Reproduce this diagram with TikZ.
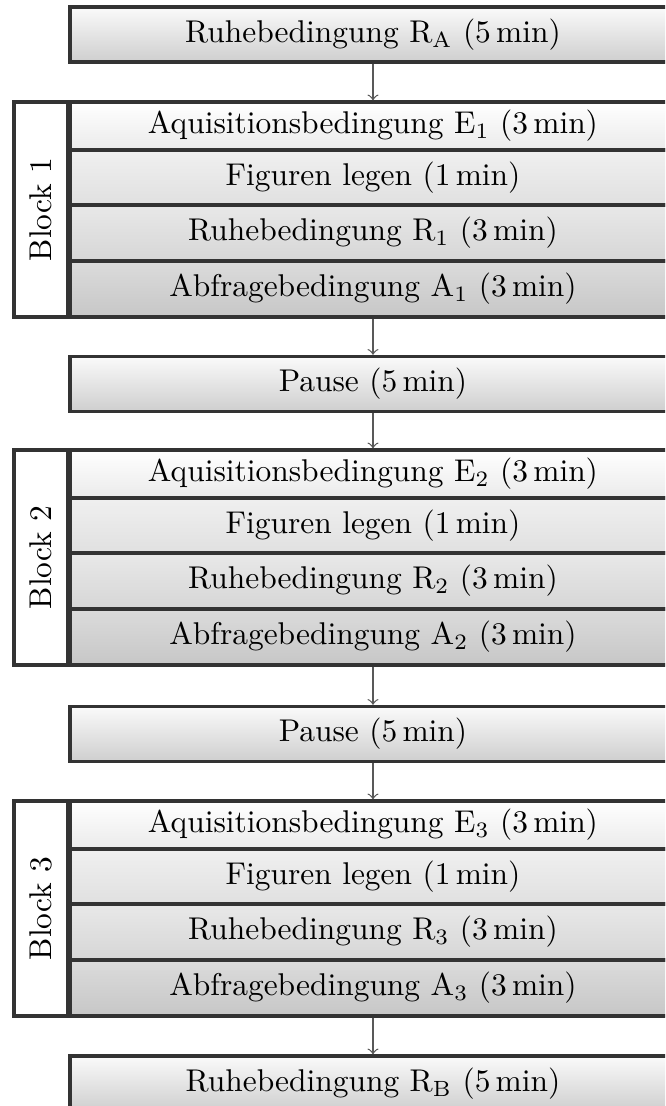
\documentclass[tikz,border=0pt]{standalone}
\newcommand\pxu{0.318pt}
\tikzset{
  frame/.style={draw=black!80, line width=1.1pt, inner sep=0pt},
  stage/.style={frame, minimum width={606*\pxu}, minimum height={55*\pxu}, top color=black!2, bottom color=black!19},
  rowa/.style={stage, minimum height={48*\pxu}, top color=white, bottom color=black!8},
  rowb/.style={stage, minimum height={55*\pxu}, top color=black!6, bottom color=black!12},
  rowc/.style={stage, minimum height={56*\pxu}, top color=black!9, bottom color=black!16},
  rowd/.style={stage, minimum height={56*\pxu}, top color=black!14, bottom color=black!22},
  blocklabel/.style={frame, fill=white, rotate=90, minimum width={215*\pxu}, minimum height={54*\pxu}},
  flow/.style={->, draw=black!65, line width=0.4pt}
}
\begin{document}
\begin{tikzpicture}[x=\pxu, y=-\pxu]
  \useasboundingbox (0, 0) rectangle (665, 1106);
  \clip (0, 0) rectangle (665, 1106);

  \node[stage] (ra) at (373, 34.5) {Ruhebedingung $\mathrm{R}_\mathrm{A}$ (5\,min)};
  \node[stage] (p1) at (373, 384) {Pause (5\,min)};
  \node[stage] (p2) at (373, 734) {Pause (5\,min)};
  \node[stage] (rb) at (373, 1083.5) {Ruhebedingung $\mathrm{R}_\mathrm{B}$ (5\,min)};

  % three blocks of four conditions each
  \foreach \b/\t in {1/102, 2/450, 3/801} {
    \node[rowa] (b\b r1) at (373, \t + 24) {Aquisitionsbedingung $\mathrm{E}_\b$ (3\,min)};
    \node[rowb] (b\b r2) at (373, \t + 75.5) {Figuren legen (1\,min)};
    \node[rowc] (b\b r3) at (373, \t + 131) {Ruhebedingung $\mathrm{R}_\b$ (3\,min)};
    \node[rowd] (b\b r4) at (373, \t + 187) {Abfragebedingung $\mathrm{A}_\b$ (3\,min)};
    \node[blocklabel] (b\b) at (41, \t + 107.5) {Block \b};
  }

  \draw[flow] (ra) -- (b1r1);
  \draw[flow] (b1r4) -- (p1);
  \draw[flow] (p1) -- (b2r1);
  \draw[flow] (b2r4) -- (p2);
  \draw[flow] (p2) -- (b3r1);
  \draw[flow] (b3r4) -- (rb);
\end{tikzpicture}
\end{document}
